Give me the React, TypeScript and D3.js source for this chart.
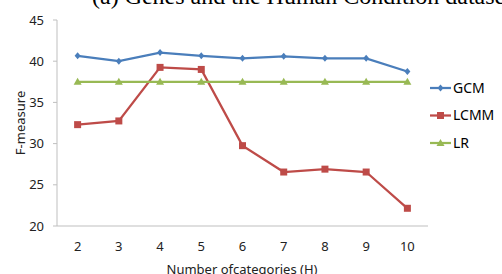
import React from 'react';
import * as d3 from 'd3';

const categories = ['2', '3', '4', '5', '6', '7', '8', '9', '10'];
const gcmValues = [40.65, 40.0, 41.05, 40.65, 40.35, 40.6, 40.35, 40.35, 38.75];
const lcmmValues = [32.3, 32.75, 39.25, 39.0, 29.75, 26.55, 26.9, 26.55, 22.15];
const lrValues = [37.5, 37.5, 37.5, 37.5, 37.5, 37.5, 37.5, 37.5, 37.5];
const yTicks = [20, 25, 30, 35, 40, 45];

const series = [
    { name: 'GCM', values: gcmValues, color: '#4A7EBB', marker: 'diamond' },
    { name: 'LCMM', values: lcmmValues, color: '#BE4B48', marker: 'square' },
    { name: 'LR', values: lrValues, color: '#98B954', marker: 'triangle' }
];

const W = 502;
const H = 274;
const margin = { top: 20, right: 74, bottom: 48, left: 57 };
const font = "'Noto Sans', 'Open Sans', sans-serif";

const markerPath = (kind: string, cx: number, cy: number) => {
    if (kind === 'diamond') return `M${cx},${cy - 3.5}L${cx + 3},${cy}L${cx},${cy + 3.5}L${cx - 3},${cy}Z`;
    if (kind === 'square') return `M${cx - 3.5},${cy - 3.5}h7v7h-7Z`;
    return `M${cx},${cy - 4}L${cx + 4},${cy + 3}L${cx - 4},${cy + 3}Z`;
};

export default function App() {
    const x = d3.scaleBand().domain(categories).range([margin.left, W - margin.right]);
    const y = d3.scaleLinear().domain([20, 45]).range([H - margin.bottom, margin.top]);
    const cx = (c: string) => (x(c) as number) + x.bandwidth() / 2;
    const line = d3.line<number>().x((_, i) => cx(categories[i])).y(d => y(d));

    return (
        <svg width={W} height={H} style={{ position: 'absolute', left: 0, top: 0 }}>
            <rect width={W} height={H} fill="#fff" />
            <text x={92} y={4} fontFamily="'Liberation Serif', serif" fontSize={24} fill="#000">
                (a) Genes and the Human Condition dataset
            </text>

            {/* axes */}
            <line x1={margin.left} x2={margin.left} y1={y(45)} y2={y(20)} stroke="#BFBFBF" strokeWidth={1} />
            <line x1={margin.left} x2={W - margin.right} y1={y(20)} y2={y(20)} stroke="#BFBFBF" strokeWidth={1} />
            {yTicks.map(t => (
                <g key={t}>
                    <line x1={margin.left - 4} x2={margin.left} y1={y(t)} y2={y(t)} stroke="#BFBFBF" />
                    <text x={44} y={y(t)} dy="0.35em" textAnchor="end" fontFamily={font} fontSize={13} fill="#222">{t}</text>
                </g>
            ))}
            {categories.map(c => (
                <text key={c} x={cx(c)} y={251} textAnchor="middle" fontFamily={font} fontSize={13} fill="#222">{c}</text>
            ))}
            <text x={242} y={274} textAnchor="middle" fontFamily={font} fontSize={13} fill="#222">Number ofcategories (H)</text>
            <text transform={`translate(25,${(y(20) + y(45)) / 2}) rotate(-90)`} textAnchor="middle" fontFamily={font} fontSize={13} fill="#222">F-measure</text>

            {/* series */}
            {series.map(s => (
                <g key={s.name}>
                    <path d={line(s.values) || ''} fill="none" stroke={s.color} strokeWidth={2.25} />
                    {s.values.map((v, i) => (
                        <path key={i} d={markerPath(s.marker, cx(categories[i]), y(v))} fill={s.color} />
                    ))}
                </g>
            ))}

            {/* legend */}
            {series.map((s, i) => {
                const ly = 88 + i * 27.5;
                return (
                    <g key={s.name}>
                        <line x1={430} x2={451} y1={ly} y2={ly} stroke={s.color} strokeWidth={2.25} />
                        <path d={markerPath(s.marker, 440.5, ly)} fill={s.color} />
                        <text x={453} y={ly} dy="0.35em" fontFamily={font} fontSize={14} fill="#000">{s.name}</text>
                    </g>
                );
            })}
        </svg>
    );
}
